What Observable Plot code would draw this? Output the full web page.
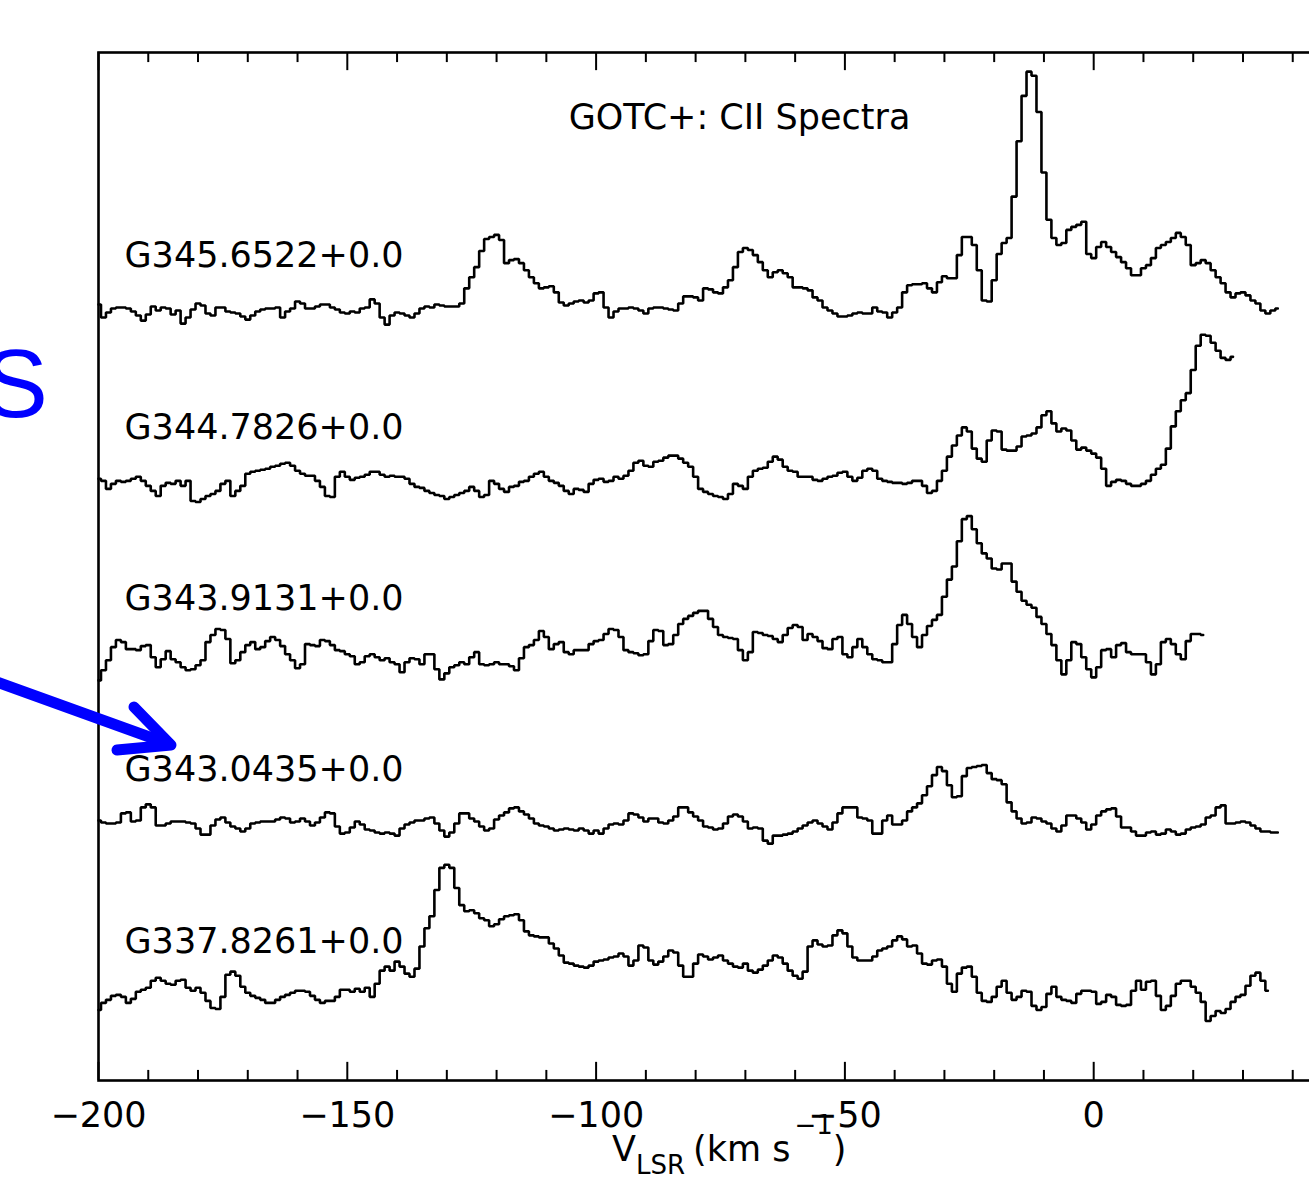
<!DOCTYPE html>
<html><head><meta charset="utf-8">
<script src="https://cdn.jsdelivr.net/npm/d3@7"></script>
<script src="https://cdn.jsdelivr.net/npm/@observablehq/plot@0.6"></script>
<style>
html,body{margin:0;padding:0;background:#fff;overflow:hidden;}
#wrap{position:relative;width:1309px;height:1180px;overflow:hidden;background:#fff;}
#chart svg{max-width:none !important;display:block;}
#overlay{position:absolute;left:0;top:0;pointer-events:none;}
</style></head>
<body>
<div id="wrap">
<div id="chart"></div>
<svg id="overlay" width="1309" height="1180">
  <text x="48" y="417" font-family="Liberation Sans, Arial, sans-serif" font-size="97" fill="#0000ff" text-anchor="end">S</text>
  <path d="M-20,676 L166,743" stroke="#0000ff" stroke-width="11" stroke-linecap="round" fill="none"/>
  <path d="M134,707 L171,745 L117,750" fill="none" stroke="#0000ff" stroke-width="11" stroke-linecap="round" stroke-linejoin="round"/>
</svg>
</div>
<script>
// ---- data ----
const title = "GOTC+: CII Spectra";
const names = ["G345.6522+0.0", "G344.7826+0.0", "G343.9131+0.0", "G343.0435+0.0", "G337.8261+0.0"];
const offsets = [76.5, 59.5, 42.5, 25.5, 8.5];   // vertical offset of each spectrum
const vStart = -200;   // km/s, first channel
const dv = 1;          // km/s, channel width
const majorTicks = [-200, -150, -100, -50, 0, 50];
const tickLabels = [-200, -150, -100, -50, 0];
const minorTicks = [-190, -180, -170, -160, -140, -130, -120, -110, -90, -80, -70, -60, -40, -30, -20, -10, 10, 20, 30, 40];

const g345 = [
 0.5, -0.8, -0.3, 0.1, 0.2, 0.2, 0.1, -0.2, -0.6, -1.1,
 -0.5, 0.3, -0.1, 0.2, 0.1, -0.5, -0.1, -1.4, -0.8, 0.0,
 0.6, 0.4, -0.4, -0.6, 0.2, 0.2, -0.2, -0.3, -0.4, -0.7,
 -1.0, -0.6, -0.2, 0.0, 0.1, 0.1, 0.2, -0.8, -0.2, 0.1,
 0.8, 0.6, 0.1, 0.1, 0.3, 0.5, 0.5, 0.2, 0.0, -0.3,
 -0.4, -0.2, -0.3, 0.1, 0.2, 1.0, 0.6, -0.8, -1.5, -0.6,
 -0.3, -0.4, -0.6, -0.8, -0.4, 0.1, 0.3, 0.2, 0.5, 0.4,
 0.3, 0.3, 0.3, 0.6, 2.1, 3.2, 4.2, 5.8, 7.0, 7.2,
 7.4, 6.9, 4.6, 4.9, 5.0, 4.6, 3.9, 3.2, 2.6, 2.1,
 2.2, 2.3, 1.7, 0.7, 0.4, 0.6, 0.8, 0.9, 0.7, 0.9,
 1.6, 1.7, 0.2, -0.8, -0.2, 0.1, 0.1, 0.2, 0.1, -0.1,
 -0.4, 0.1, 0.2, 0.2, 0.1, 0.0, -0.1, 0.6, 1.3, 1.3,
 1.2, 0.9, 2.1, 2.0, 1.7, 1.6, 2.2, 2.9, 4.2, 5.7,
 6.1, 5.9, 5.4, 4.7, 3.9, 3.2, 3.7, 3.9, 3.6, 3.2,
 2.2, 2.2, 2.1, 1.9, 1.2, 0.9, 0.2, -0.1, -0.4, -0.7,
 -0.7, -0.6, -0.4, -0.3, -0.4, -0.4, 0.2, -0.2, -0.3, -0.8,
 -0.3, 0.2, 1.7, 2.4, 2.5, 2.5, 2.6, 2.1, 1.7, 2.7,
 3.3, 3.1, 3.1, 5.4, 7.2, 7.2, 6.4, 3.9, 0.9, 0.8,
 2.9, 5.5, 6.6, 7.1, 11.2, 16.7, 21.2, 23.6, 23.2, 19.6,
 13.6, 8.9, 7.1, 6.4, 6.6, 7.9, 8.2, 8.4, 8.7, 5.5,
 5.1, 6.2, 6.7, 6.2, 5.7, 5.2, 4.7, 4.1, 3.4, 3.4,
 4.1, 4.4, 5.1, 6.1, 6.4, 6.7, 7.1, 7.6, 7.2, 6.4,
 4.4, 4.6, 4.9, 4.6, 3.9, 3.2, 2.6, 1.7, 1.2, 1.6,
 1.7, 1.4, 0.9, 0.6, -0.1, -0.4, -0.1, 0.1
];
const g344 = [
 0.2, 0.0, -0.8, -0.3, 0.0, -0.1, 0.0, 0.2, 0.4, 0.0,
 -0.5, -1.0, -1.5, -0.5, -0.2, -0.3, 0.0, -0.5, 0.0, -2.0,
 -2.1, -1.8, -1.5, -1.3, -1.0, -0.3, 0.0, -1.5, -1.0, -0.5,
 0.7, 0.9, 1.0, 1.1, 1.2, 1.4, 1.5, 1.7, 1.8, 1.5,
 1.0, 0.7, 0.5, 0.5, 0.0, -0.6, -1.5, -1.6, 0.4, 0.9,
 0.4, 0.1, 0.3, 0.4, 0.6, 0.9, 0.9, 0.6, 0.4, 0.5,
 0.4, 0.4, 0.2, -0.3, -0.6, -0.7, -1.0, -1.2, -1.4, -1.5,
 -1.8, -1.6, -1.4, -1.2, -1.0, -0.6, -1.0, -1.6, -1.4, 0.0,
 -0.3, -0.8, -1.1, -0.6, -0.5, -0.1, 0.0, 0.4, 0.7, 0.9,
 0.4, 0.0, -0.2, -0.5, -1.0, -1.3, -0.8, -0.9, -1.1, -0.3,
 0.1, 0.2, -0.1, 0.0, 0.4, 0.2, 0.5, 1.0, 1.8, 2.0,
 1.5, 1.4, 1.9, 2.0, 2.3, 2.5, 2.5, 2.2, 1.8, 1.4,
 0.4, -0.8, -1.1, -1.3, -1.5, -1.6, -1.8, -1.3, -0.3, -0.5,
 -0.8, 0.4, 1.0, 1.2, 1.3, 1.9, 2.4, 2.1, 1.4, 1.0,
 0.9, 0.4, 0.4, 0.4, 0.1, 0.0, 0.2, 0.4, 0.5, 0.8,
 0.9, 0.4, 0.0, 0.3, 1.0, 1.2, 1.0, 0.2, 0.0, -0.1,
 -0.2, -0.2, -0.3, -0.2, 0.0, 0.0, -0.5, -1.2, -1.0, 0.0,
 1.0, 2.4, 3.5, 4.5, 5.3, 4.9, 3.2, 2.2, 1.9, 4.0,
 5.0, 4.9, 3.1, 3.0, 3.0, 3.4, 4.4, 4.5, 4.7, 5.3,
 6.5, 6.9, 5.7, 4.9, 5.2, 5.0, 4.0, 3.1, 3.3, 3.0,
 2.7, 2.3, 1.2, -0.5, -0.1, 0.1, 0.0, -0.3, -0.5, -0.5,
 -0.3, 0.0, 0.6, 1.2, 1.6, 3.2, 5.4, 6.9, 8.0, 8.7,
 11.0, 13.4, 14.5, 14.4, 13.7, 12.9, 12.2, 12.0, 12.3
];
const g3439 = [
 -2.8, -1.8, -0.8, 0.5, 1.2, 1.0, 0.3, 0.3, 0.2, 0.6,
 0.7, -0.5, -1.5, -0.7, 0.1, -0.7, -1.0, -1.5, -1.8, -1.7,
 -1.3, -0.8, 1.0, 1.7, 2.3, 2.2, 1.3, -1.1, -0.8, 0.0,
 0.7, 1.0, 0.3, 0.5, 1.1, 1.5, 1.2, 0.6, -0.2, -0.8,
 -1.6, -1.2, 0.8, 0.7, 0.6, 1.2, 1.1, 0.7, 0.2, 0.1,
 -0.2, -0.4, -1.2, -1.0, -0.4, -0.2, -0.5, -0.8, -0.6, -1.0,
 -1.2, -2.0, -1.0, -0.6, -0.7, -1.2, -0.2, -0.2, -1.7, -2.7,
 -2.1, -1.5, -1.3, -1.0, -1.2, -0.5, 0.0, -1.2, -1.3, -1.2,
 -1.0, -1.2, -1.2, -1.4, -1.8, -0.6, 0.5, 0.7, 1.2, 2.1,
 1.5, 0.3, 0.8, 1.0, 0.0, -0.2, 0.2, 0.2, 0.2, 0.8,
 1.1, 1.2, 1.8, 2.3, 2.2, 1.5, 0.2, 0.0, -0.1, -0.3,
 -0.2, 1.1, 2.2, 2.1, 0.7, 0.8, 1.7, 2.8, 3.3, 3.6,
 3.9, 4.1, 4.1, 3.3, 2.5, 1.7, 1.5, 1.4, 1.3, 0.2,
 -0.8, 0.0, 2.0, 1.9, 1.7, 1.6, 1.3, 1.0, 1.7, 2.4,
 2.7, 2.5, 1.2, 1.8, 1.5, 1.1, 0.4, 0.3, 1.3, 1.5,
 -0.2, -0.5, 0.5, 1.3, 0.5, -0.2, -0.7, -0.8, -1.0, -1.0,
 0.8, 2.7, 3.7, 2.8, 1.5, 0.5, 1.7, 2.6, 3.2, 3.7,
 5.5, 7.2, 8.5, 11.0, 13.2, 13.5, 12.2, 10.8, 9.8, 9.3,
 8.3, 8.2, 8.8, 8.8, 7.0, 6.0, 5.1, 4.7, 4.4, 3.5,
 2.8, 1.8, 0.7, -0.8, -2.2, -0.8, 1.0, 0.8, -0.5, -1.7,
 -2.5, -1.5, 0.2, 0.3, -0.5, 0.7, 0.9, 0.0, -0.2, -0.2,
 -0.2, -1.0, -2.2, -1.2, 1.0, 1.3, 0.8, -0.2, -0.7, 1.1,
 1.8, 1.8, 1.7
];
const g3430 = [
 0.3, 0.1, 0.0, 0.0, 0.1, 1.0, 1.1, 0.2, 0.3, 1.6,
 1.9, 1.6, -0.2, -0.2, 0.0, 0.2, 0.2, 0.2, 0.1, 0.0,
 -0.5, -1.1, -1.1, -0.2, 0.4, 0.6, 0.1, -0.3, -0.5, -0.8,
 -0.5, 0.0, 0.1, 0.2, 0.2, 0.2, 0.4, 0.6, 0.5, 0.1,
 0.2, 0.5, 0.2, -0.2, 0.1, 0.6, 1.1, 1.0, -0.3, -1.0,
 -0.9, -0.4, 0.2, -0.1, -0.6, -0.7, -0.9, -1.0, -0.9, -1.0,
 -1.2, -0.5, -0.1, 0.1, 0.3, 0.3, 0.5, 0.6, 0.0, -0.7,
 -1.3, -0.9, 0.0, 1.0, 1.0, 0.5, 0.2, -0.3, -0.7, -0.5,
 0.4, 0.8, 1.1, 1.5, 1.6, 1.2, 0.9, 0.5, 0.0, -0.2,
 -0.3, -0.5, -0.7, -0.6, -0.5, -0.6, -0.7, -0.5, -0.7, -1.0,
 -0.7, -1.0, -0.5, -0.1, 0.0, -0.1, 0.3, 1.0, 0.9, 0.6,
 0.2, 0.5, 0.5, 0.1, 0.0, 0.3, 0.7, 1.6, 1.6, 1.1,
 0.7, 0.3, -0.3, -0.4, -0.6, -0.5, 0.0, 0.7, 0.9, 0.7,
 0.2, -0.5, -0.4, -0.5, -1.7, -2.0, -1.2, -1.2, -1.1, -1.0,
 -0.8, -0.5, -0.2, 0.1, 0.3, 0.0, -0.3, -0.6, 0.1, 1.0,
 1.6, 1.6, 1.6, 0.6, 0.5, 0.3, -1.0, -1.0, 0.3, 0.8,
 -0.1, -0.1, 0.3, 1.2, 1.6, 2.0, 2.8, 3.7, 4.8, 5.6,
 5.2, 3.8, 2.6, 2.7, 4.7, 5.5, 5.6, 5.7, 5.8, 5.0,
 4.4, 4.3, 3.9, 2.1, 1.2, 0.5, 0.0, 0.1, 0.6, 0.5,
 0.2, 0.0, -0.5, -0.8, -0.2, 0.8, 0.8, 0.5, 0.1, -0.6,
 -0.1, 0.8, 1.2, 1.4, 1.5, 0.7, -0.4, -0.4, -0.8, -1.2,
 -1.2, -0.9, -0.8, -1.1, -1.0, -0.6, -0.8, -1.1, -1.0, -0.6,
 -0.4, -0.3, -0.1, 0.6, 0.8, 1.6, 1.8, 0.0, 0.0, 0.1,
 0.2, 0.1, -0.2, -0.5, -0.8, -0.8, -0.9, -0.9
];
const g337 = [
 -1.5, -0.8, -0.5, -0.1, 0.0, -0.2, -0.8, -0.4, 0.3, 0.5,
 0.7, 1.4, 1.7, 1.4, 1.1, 1.0, 1.4, 1.5, 0.7, 0.4,
 0.7, 0.2, -0.6, -1.3, -1.4, -0.2, 2.0, 2.3, 1.9, 0.8,
 0.2, -0.1, -0.3, -0.5, -0.8, -0.8, -0.5, -0.2, 0.0, 0.2,
 0.4, 0.4, 0.3, -0.1, -0.5, -0.8, -0.6, -0.6, -0.2, 0.5,
 0.5, 0.3, 0.6, 0.3, 0.7, -0.2, 1.1, 2.4, 2.8, 2.4,
 3.3, 2.8, 2.1, 1.8, 2.6, 4.8, 6.6, 7.8, 10.4, 12.6,
 12.9, 12.6, 10.6, 8.9, 8.3, 8.4, 8.1, 7.6, 7.4, 6.8,
 7.0, 7.5, 7.8, 7.9, 8.0, 7.4, 6.3, 5.9, 5.8, 5.7,
 5.7, 5.1, 4.6, 3.9, 3.2, 3.1, 2.9, 2.8, 2.7, 2.9,
 3.3, 3.4, 3.5, 3.7, 3.8, 4.1, 3.8, 2.9, 3.4, 4.9,
 4.7, 3.4, 3.0, 3.3, 3.8, 4.4, 4.2, 2.9, 1.8, 1.8,
 3.1, 4.0, 3.8, 3.5, 3.7, 3.9, 3.4, 3.1, 2.8, 2.7,
 3.1, 2.4, 2.2, 2.5, 2.9, 3.4, 3.9, 3.7, 3.1, 2.4,
 1.9, 1.6, 2.3, 4.8, 5.4, 5.0, 4.8, 4.9, 5.9, 6.4,
 6.1, 4.8, 3.7, 3.4, 3.4, 3.4, 3.8, 4.4, 4.6, 4.8,
 5.4, 5.8, 5.5, 4.8, 4.9, 4.1, 3.1, 3.0, 3.4, 3.5,
 2.8, 1.1, 0.3, 2.1, 2.7, 2.8, 1.8, 0.2, -0.6, -0.7,
 -0.2, 0.8, 1.4, 0.2, -0.5, -0.2, 0.4, 0.3, -1.1, -1.5,
 -1.2, 0.1, 0.8, -0.2, -0.5, -0.6, -0.8, 0.1, 0.4, 0.4,
 0.3, -0.9, -0.7, 0.0, -0.2, -1.0, -1.1, -1.0, 0.4, 1.4,
 0.5, 1.3, 1.4, -0.1, -1.5, -1.1, -0.1, 1.1, 1.4, 1.4,
 0.8, 0.2, -0.7, -2.6, -2.1, -1.6, -1.8, -1.4, -0.7, -0.2,
 0.0, 0.9, 1.9, 2.2, 1.4, 0.4
];

const spectra = [g345, g344, g3439, g3430, g337];
const rows = spectra.flatMap((vals, i) =>
  vals.map((t, j) => ({name: names[i], v: vStart + j * dv, y: offsets[i] + t})));

const fmt = d => (d < 0 ? "\u2212" + Math.abs(d) : String(d));
const FONT = "DejaVu Sans, sans-serif";

const plot = Plot.plot({
  width: 1400,
  height: 1180,
  marginLeft: 98,
  marginRight: 58,
  marginTop: 52,
  marginBottom: 100,
  x: {domain: [-200, 50], axis: null},
  y: {domain: [0, 102], axis: null},
  style: {fontFamily: FONT, background: "white", color: "black", maxWidth: "none", overflow: "visible"},
  marks: [
    Plot.line(rows, {x: "v", y: "y", z: "name", curve: "step", stroke: "black", strokeWidth: 2.6, strokeLinejoin: "miter"}),
    Plot.ruleX(minorTicks, {x: d => d, y1: 0, y2: 1.0, stroke: "black", strokeWidth: 2}),
    Plot.ruleX(minorTicks, {x: d => d, y1: 102, y2: 101, stroke: "black", strokeWidth: 2}),
    Plot.ruleX(majorTicks, {x: d => d, y1: 0, y2: 1.8, stroke: "black", strokeWidth: 2}),
    Plot.ruleX(majorTicks, {x: d => d, y1: 102, y2: 100.2, stroke: "black", strokeWidth: 2}),
    Plot.text(tickLabels, {x: d => d, frameAnchor: "bottom", lineAnchor: "middle", dy: 35, text: fmt, fontSize: 35, fill: "black"}),
    Plot.text(names, {frameAnchor: "left", dx: 26, y: (d, i) => offsets[i] + 5.3, text: d => d, textAnchor: "start", lineAnchor: "middle", fontSize: 35, fill: "black"}),
    Plot.text([title], {frameAnchor: "top", lineAnchor: "middle", dx: 19, dy: 65, text: d => d, fontSize: 35, fill: "black"}),
    Plot.frame({stroke: "black", strokeWidth: 2.6})
  ]
});
document.getElementById("chart").appendChild(plot);

// axis label: V_LSR (km s^-1)
const lab = d3.select(plot).append("text")
  .attr("x", 612).attr("y", 1161).attr("text-anchor", "start")
  .attr("font-family", FONT).attr("font-size", 35).attr("fill", "black");
lab.append("tspan").text("V");
lab.append("tspan").attr("font-size", 26).attr("dy", 13).text("LSR");
lab.append("tspan").attr("dy", -13).attr("dx", 8).text("(km s");
lab.append("tspan").attr("font-size", 26).attr("dx", 4).attr("dy", -27).text("\u22121");
lab.append("tspan").attr("dy", 27).text(")");
</script>
</body></html>
